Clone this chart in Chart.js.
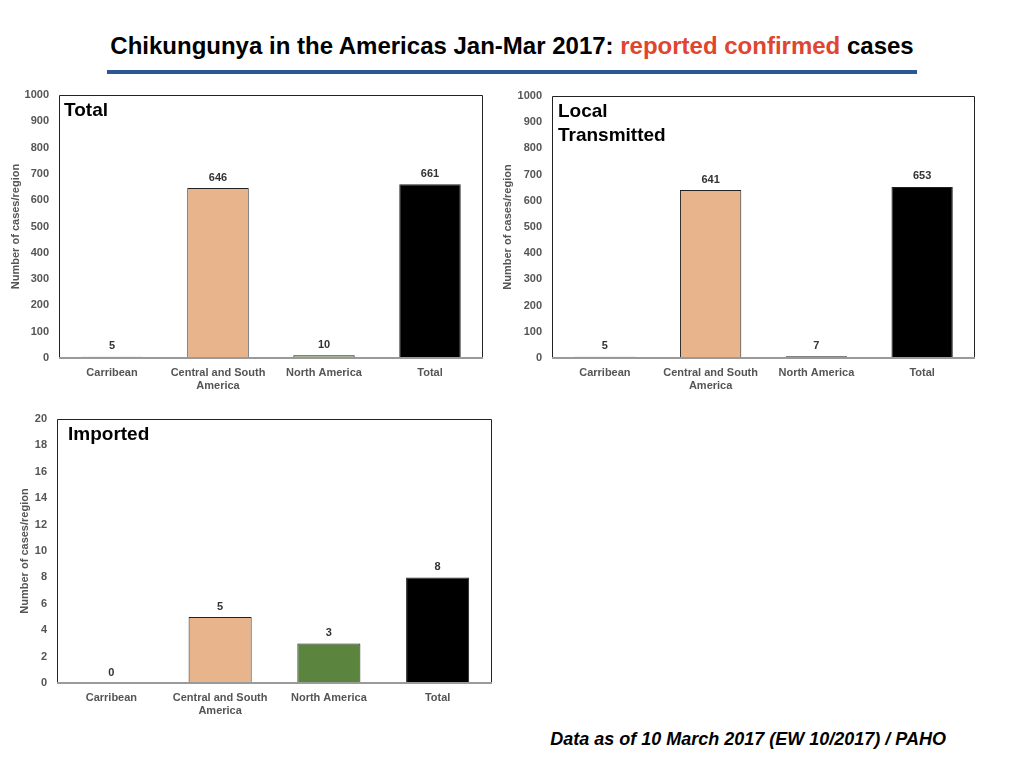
<!DOCTYPE html>
<html>
<head>
<meta charset="utf-8">
<script src="https://cdn.jsdelivr.net/npm/chart.js@4.4.1/dist/chart.umd.min.js"></script>
<style>
  body { margin: 0; width: 1024px; height: 768px; background: #fff; position: relative; overflow: hidden; font-family: "Liberation Sans", Arial, sans-serif; }
  #title { position: absolute; left: 0; width: 1024px; top: 32px; text-align: center; font-weight: bold; font-size: 24px; line-height: 28px; color: #000; }
  #title .red { color: #e0452e; }
  #rule { position: absolute; left: 107px; top: 70px; width: 810px; height: 4px; background: #2b5797; }
  #footer { position: absolute; right: 78px; top: 729px; font-weight: bold; font-style: italic; font-size: 18px; color: #000; }
  .box { position: absolute; width: 500px; height: 310px; }
</style>
</head>
<body>
<div id="title">Chikungunya in the Americas Jan-Mar 2017: <span class="red">reported confirmed</span> cases</div>
<div id="rule"></div>

<div class="box" style="left:0; top:85px;"><canvas id="totalChart"></canvas></div>
<div class="box" style="left:500px; top:85px;"><canvas id="localChart"></canvas></div>
<div class="box" style="left:0; top:410px;"><canvas id="importedChart"></canvas></div>

<div id="footer">Data as of 10 March 2017 (EW 10/2017) / PAHO</div>

<script>
// data
const regions = ['Carribean', ['Central and South', 'America'], 'North America', 'Total'];
const totalCases = [5, 646, 10, 661];
const localCases = [5, 641, 7, 653];
const importedCases = [0, 5, 3, 8];
const barColors = ['#6d7d96', '#e8b48c', '#5b843f', '#000000'];
const localColors = ['#777777', '#e8b48c', '#8a9080', '#000000'];
const totalColors = ['#6d7d96', '#e8b48c', '#9aae86', '#000000'];

const FONT = '"Liberation Sans", Arial, sans-serif';

// draw value above every bar + frame + panel name
const labelPlugin = {
    id: 'labels',
    afterDatasetsDraw(chart, args, opts) {
        const ctx = chart.ctx;
        const area = chart.chartArea;
        ctx.save();
        // plot frame
        ctx.strokeStyle = '#222';
        ctx.lineWidth = 1;
        ctx.beginPath();
        ctx.moveTo(area.left + 0.5, area.bottom);
        ctx.lineTo(area.left + 0.5, area.top + 0.5);
        ctx.lineTo(area.right - 0.5, area.top + 0.5);
        ctx.lineTo(area.right - 0.5, area.bottom);
        ctx.stroke();
        ctx.strokeStyle = '#9a9a9a';
        ctx.lineWidth = 2;
        ctx.beginPath();
        ctx.moveTo(area.left, area.bottom);
        ctx.lineTo(area.right, area.bottom);
        ctx.stroke();

        // values
        const meta = chart.getDatasetMeta(0);
        const data = chart.data.datasets[0].data;
        ctx.fillStyle = '#333';
        ctx.font = 'bold 11px ' + FONT;
        ctx.textAlign = 'center';
        ctx.textBaseline = 'bottom';
        meta.data.forEach((bar, i) => {
            ctx.fillText(String(data[i]), bar.x, bar.y - 5);
        });

        // panel name
        ctx.fillStyle = '#000';
        ctx.font = 'bold 19px ' + FONT;
        ctx.textAlign = 'left';
        ctx.textBaseline = 'top';
        opts.name.forEach((line, i) => {
            ctx.fillText(line, area.left + opts.dx, area.top + 6 + i * 24);
        });
        ctx.restore();
    }
};

function makeChart(id, values, colors, maxY, step, cfg) {
    return new Chart(document.getElementById(id), {
        type: 'bar',
        data: {
            labels: regions,
            datasets: [{
                data: values,
                backgroundColor: colors,
                borderColor: '#222',
                borderWidth: 1,
                borderSkipped: 'bottom',
                barPercentage: 0.58,
                categoryPercentage: 1
            }]
        },
        options: {
            responsive: true,
            maintainAspectRatio: false,
            animation: false,
            events: [],
            layout: { padding: { top: cfg.top, right: cfg.right, left: 0, bottom: 0 } },
            plugins: {
                legend: { display: false },
                tooltip: { enabled: false },
                labels: { name: cfg.name, dx: cfg.dx }
            },
            scales: {
                x: {
                    grid: { display: false, drawTicks: false },
                    border: { display: false },
                    ticks: {
                        color: '#555',
                        font: { size: 11, weight: 'bold', family: FONT },
                        padding: 8,
                        maxRotation: 0,
                        autoSkip: false
                    },
                    afterFit(scale) { scale.height = 37; }
                },
                y: {
                    min: 0,
                    max: maxY,
                    grid: { display: false, drawTicks: false },
                    border: { display: false },
                    ticks: {
                        stepSize: step,
                        color: '#555',
                        padding: 10,
                        font: { size: 11, weight: 'bold', family: FONT },
                        callback: (v) => String(v)
                    },
                    title: {
                        display: true,
                        text: 'Number of cases/region',
                        color: '#555',
                        font: { size: 11, weight: 'bold', family: FONT },
                        padding: { top: cfg.titlePad, bottom: 0 }
                    },
                    afterFit(scale) {
                        scale.width = cfg.axisW;
                        scale.paddingTop = 0;
                        scale.paddingBottom = 0;
                    }
                }
            }
        },
        plugins: [labelPlugin]
    });
}

makeChart('totalChart', totalCases, totalColors, 1000, 100,
    { top: 10, right: 17, axisW: 59, titlePad: 9, name: ['Total'], dx: 5 });
makeChart('localChart', localCases, localColors, 1000, 100,
    { top: 11, right: 25, axisW: 52, titlePad: 1, name: ['Local', 'Transmitted'], dx: 6 });
makeChart('importedChart', importedCases, barColors, 20, 2,
    { top: 9, right: 8, axisW: 57, titlePad: 18, name: ['Imported'], dx: 11 });
</script>
</body>
</html>
